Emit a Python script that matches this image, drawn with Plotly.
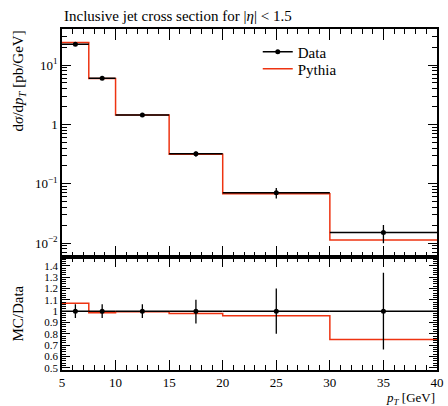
import plotly.graph_objects as go

# Data
bin_edges = [5, 7.5, 10, 15, 20, 30, 40]
bin_centers = [6.25, 8.75, 12.5, 17.5, 25, 35]
data_vals = [22.5, 6.0, 1.44, 0.319, 0.0706, 0.0151]
data_rel_err_up = [0.06, 0.06, 0.06, 0.10, 0.20, 0.34]
data_rel_err_dn = [0.06, 0.06, 0.06, 0.11, 0.20, 0.34]
ratio_mc = [1.07, 0.985, 0.995, 0.98, 0.96, 0.75]
mc_vals = [d * r for d, r in zip(data_vals, ratio_mc)]

x_ticks = [5, 10, 15, 20, 25, 30, 35, 40]
ratio_ticks = [0.5, 0.6, 0.7, 0.8, 0.9, 1.0, 1.1, 1.2, 1.3, 1.4]
ratio_ticktext = ["0.5", "0.6", "0.7", "0.8", "0.9", "1", "1.1", "1.2", "1.3", "1.4"]
main_ticks = [0.01, 0.1, 1, 10]
main_ticktext = ["10<sup>−2</sup>", "10<sup>−1</sup>", "1", "10<sup>1</sup>"]

RED = "#ee3311"
FONT = "Liberation Serif"

half_w = [(bin_edges[i + 1] - bin_edges[i]) / 2 for i in range(len(bin_centers))]
err_up = [v * e for v, e in zip(data_vals, data_rel_err_up)]
err_dn = [v * e for v, e in zip(data_vals, data_rel_err_dn)]

fig = go.Figure()

# Main panel: MC step
fig.add_trace(go.Scatter(
    x=bin_edges, y=mc_vals + [mc_vals[-1]], mode="lines", line_shape="hv",
    line=dict(color=RED, width=1.5), xaxis="x", yaxis="y", showlegend=False))
# Main panel: data
fig.add_trace(go.Scatter(
    x=bin_centers, y=data_vals, mode="markers",
    marker=dict(color="black", size=5),
    error_x=dict(type="data", array=half_w, color="black", thickness=1.5, width=0),
    error_y=dict(type="data", array=err_up, arrayminus=err_dn, symmetric=False,
                 color="black", thickness=1.3, width=0),
    xaxis="x", yaxis="y", showlegend=False))

# Ratio panel
fig.add_trace(go.Scatter(
    x=bin_edges, y=ratio_mc + [ratio_mc[-1]], mode="lines", line_shape="hv",
    line=dict(color=RED, width=1.5), xaxis="x2", yaxis="y2", showlegend=False))
fig.add_trace(go.Scatter(
    x=bin_centers, y=[1.0] * len(bin_centers), mode="markers",
    marker=dict(color="black", size=5),
    error_x=dict(type="data", array=half_w, color="black", thickness=1.5, width=0),
    error_y=dict(type="data", array=data_rel_err_up, arrayminus=data_rel_err_dn,
                 symmetric=False, color="black", thickness=1.3, width=0),
    xaxis="x2", yaxis="y2", showlegend=False))

# Legend entries
fig.add_trace(go.Scatter(x=[None], y=[None], mode="lines+markers", name="Data",
                         line=dict(color="black", width=1.5), legend="legend",
                         marker=dict(color="black", size=5), xaxis="x", yaxis="y"))
fig.add_trace(go.Scatter(x=[None], y=[None], mode="lines", name="Pythia", legend="legend2",
                         line=dict(color=RED, width=1.5), xaxis="x", yaxis="y"))

log_minor = [m * 10.0 ** e for e in range(-3, 2) for m in range(2, 10)]

axis_common = dict(showgrid=False, zeroline=False, showline=True, linecolor="black",
                   linewidth=1.5, ticks="inside", mirror="allticks", tickcolor="black",
                   automargin=False)

legend_common = dict(x=0.522, xanchor="left", yanchor="middle", bgcolor="rgba(0,0,0,0)",
                     font=dict(family=FONT, size=15), itemwidth=30)

fig.update_layout(
    width=448, height=406,
    margin=dict(l=62, r=11, t=29, b=36),
    paper_bgcolor="white", plot_bgcolor="white",
    font=dict(family=FONT, size=12, color="black"),
    xaxis=dict(range=[5, 40], domain=[0, 1], anchor="y", showticklabels=False,
               tickvals=x_ticks, ticklen=11, tickwidth=1.2,
               minor=dict(dtick=1, tick0=5, ticks="inside", ticklen=5, tickwidth=1, tickcolor="black"),
               **axis_common),
    yaxis=dict(type="log", range=[-2.236, 1.607], domain=[0.331, 1], anchor="x",
               tickmode="array", tickvals=main_ticks, ticktext=main_ticktext,
               ticklen=9, tickwidth=1.2,
               tickfont=dict(family=FONT, size=13, color="black"),
               minor=dict(tickmode="array", tickvals=log_minor, ticks="inside", ticklen=5,
                          tickwidth=1, tickcolor="black"),
               **axis_common),
    xaxis2=dict(range=[5, 40], domain=[0, 1], anchor="y2",
                tickvals=x_ticks, ticklen=10, tickwidth=1.2,
                tickfont=dict(family=FONT, size=13, color="black"),
                minor=dict(dtick=1, tick0=5, ticks="inside", ticklen=5, tickwidth=1, tickcolor="black"),
                **axis_common),
    yaxis2=dict(range=[0.48, 1.477], domain=[0, 0.331], anchor="x2",
                tickmode="array", tickvals=ratio_ticks, ticktext=ratio_ticktext,
                ticklen=8, tickwidth=1.2,
                tickfont=dict(family=FONT, size=11, color="black"),
                minor=dict(dtick=0.02, tick0=0.5, ticks="inside", ticklen=4, tickwidth=1,
                           tickcolor="black"),
                **axis_common),
    legend=dict(y=0.9326, **legend_common),
    legend2=dict(y=0.8827, **legend_common),
    annotations=[
        dict(text="Inclusive jet cross section for |<i>η</i>| &lt; 1.5", xref="paper", yref="paper",
             x=0, y=1, yshift=3, xanchor="left", yanchor="bottom", showarrow=False,
             font=dict(family=FONT, size=15)),
        dict(text="d<i>σ</i>/d<i>p</i><sub><i>T</i></sub> [pb/GeV]", xref="paper", yref="paper",
             x=0, xshift=-44, y=1, xanchor="center", yanchor="top", textangle=-90,
             showarrow=False, font=dict(family=FONT, size=15)),
        dict(text="MC/Data", xref="paper", yref="paper",
             x=0, xshift=-44, y=0.1655, xanchor="center", yanchor="middle", textangle=-90,
             showarrow=False, font=dict(family=FONT, size=15)),
        dict(text="<i>p</i><sub><i>T</i></sub> [GeV]", xref="paper", yref="paper",
             x=1, y=0, yshift=-18, xanchor="right", yanchor="top", showarrow=False,
             font=dict(family=FONT, size=13)),
    ],
)

fig.write_html("out.html")
